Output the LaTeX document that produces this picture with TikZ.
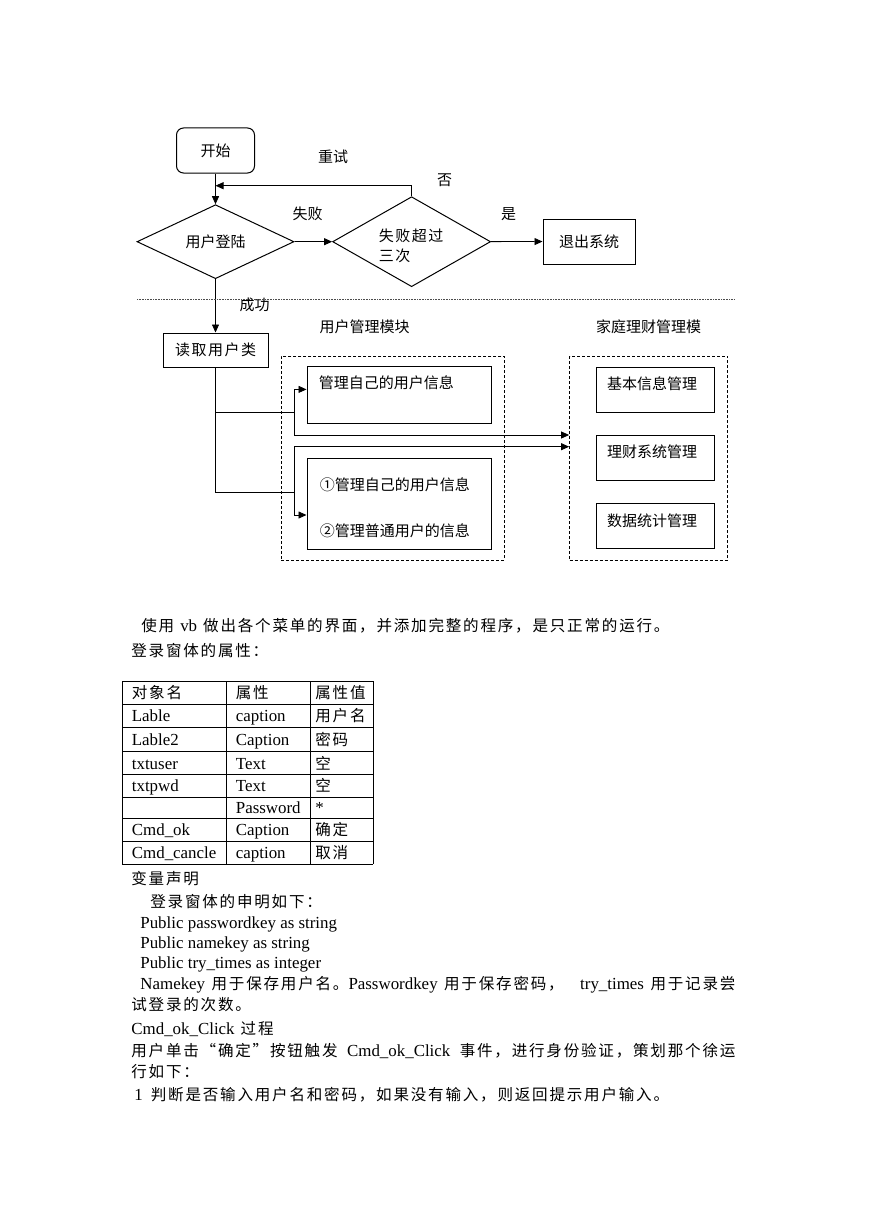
\documentclass[tikz,border=0pt]{standalone}
\usepackage{fontspec}
\setmainfont{Liberation Serif}
\newfontfamily\zhc{Noto Sans CJK SC}
\newfontfamily\zhw[LetterSpace=10]{Noto Sans CJK SC}
\newfontfamily\zh[Scale=0.92,LetterSpace=11.5]{Noto Sans CJK SC}
\usetikzlibrary{shapes.geometric,arrows.meta}
\newcommand\chartfont{\fontsize{15}{18}\selectfont\zhc}
\newcommand\bodyfont{\fontsize{16.9}{20}\selectfont}
\newcommand\cjkgap{\hspace{6pt}}
\tikzset{
  block/.style={draw, line width=1pt, inner sep=0pt, font=\chartfont},
  decision/.style={diamond, draw, line width=1pt, inner sep=0pt, font=\chartfont},
  module/.style={draw, line width=0.8pt, dash pattern=on 3pt off 2pt},
  note/.style={inner sep=0pt, font=\chartfont},
  para/.style={anchor=base west, inner sep=0pt, font=\bodyfont},
}
\begin{document}
\begin{tikzpicture}[x=1pt, y=-1pt, >={Triangle[length=8pt,width=7pt]}, line width=0.8pt]
    \useasboundingbox (0,0) rectangle (869,1228);

    \node[block, rounded corners=7pt, minimum width=78pt, minimum height=45pt] (start) at (215.5,150.5) {开始};
    \node[decision, minimum width=157pt, minimum height=67pt] (login) at (215.5,241.7) {用户登陆};
    \node[decision, minimum width=158pt, minimum height=90pt] (judge) at (411.6,241.7) {};
    \node[note, font=\chartfont\zhw, align=left, anchor=west] (judgetxt) at (378.5,245.5) {失败超过\\[2pt]三次};
    \node[block, minimum width=92pt, minimum height=45pt] (quit) at (589,241.5) {退出系统};
    \node[block, font=\chartfont\zhw, minimum width=105pt, minimum height=34pt] (read) at (215.5,350) {读取用户类};
    \coordinate (retry) at (215.5,185.7);

    \draw[->] (start) -- (login);
    \draw[->] (judge.north) |- (retry);
    \draw[->] (login) -- (judge);
    \draw[->] (judge) -- (quit);
    \draw[->] (login) -- (read);

    \node[note] (retrytxt) at (333,157) {重试};
    \node[note] (notxt) at (444.5,180.5) {否};
    \node[note] (failtxt) at (307.5,214) {失败};
    \node[note] (yestxt) at (508.5,214) {是};
    \node[note] (oktxt) at (254.5,305) {成功};
    \node[note] (usertxt) at (364.5,327) {用户管理模块};
    \node[note] (fintxt) at (648.5,327) {家庭理财管理模};

    \draw[black!70, line width=0.7pt, dash pattern=on 0.8pt off 0.8pt] (137,299) -- (735,299);

    \node[module, minimum width=223pt, minimum height=204pt] (usr) at (392.8,458) {};
    \node[module, minimum width=158pt, minimum height=204pt] (fin) at (648.5,458) {};
    \node[block, minimum width=184pt, minimum height=57pt,
          label={[note, anchor=north west, xshift=12pt, yshift=-9pt]north west:管理自己的用户信息}] (self) at (399,395.4) {};
    \node[block, minimum width=184pt, minimum height=91pt,
          label={[note, align=left, anchor=west, xshift=13pt, yshift=-4pt]west:①管理自己的用户信息\\[28pt]②管理普通用户的信息}] (both) at (399,503.7) {};
    \node[block, minimum width=118pt, minimum height=45pt,
          label={[note, anchor=west, xshift=11pt, yshift=6pt]west:基本信息管理}] (basic) at (655.3,389.8) {};
    \node[block, minimum width=118pt, minimum height=45pt,
          label={[note, anchor=west, xshift=11pt, yshift=6pt]west:理财系统管理}] (plan) at (655.3,458) {};
    \node[block, minimum width=118pt, minimum height=45pt,
          label={[note, anchor=west, xshift=11pt, yshift=6pt]west:数据统计管理}] (stat) at (655.3,526.4) {};

    \coordinate (fork1) at (294.5,412.7);
    \coordinate (fork2) at (294.5,492.3);
    \draw (read) |- (fork2);
    \draw (read |- fork1) -- (fork1);
    \draw[->] (fork1) |- ([yshift=6pt]self.west);
    \draw[->] (fork1) |- ([yshift=23pt]fin.west);
    \draw[->] (fork2) |- ([yshift=11.3pt]fin.west);
    \draw[->] (fork2) |- ([yshift=-11.3pt]both.west);

    \node[para] (p1) at (141,631) {{\zh 使用}\cjkgap vb\cjkgap{\zh 做出各个菜单的界面，并添加完整的程序，是只正常的运行。}};
    \node[para] (p2) at (131,656.5) {{\zh 登录窗体的属性：}};

    \foreach \y in {681,704,727.5,751.5,774.5,797,818.5,841,864}
        \draw (122.3,\y) -- (373,\y);
    \foreach \x in {122.3,226,310,373}
        \draw (\x,681) -- (\x,864);
    \foreach \y/\a/\b/\c [count=\i] in {692.5/{\zh 对象名}/{\zh 属性}/{\zh 属性值},
        715.8/Lable/caption/{\zh 用户名}, 739.5/Lable2/Caption/{\zh 密码},
        763/txtuser/Text/{\zh 空}, 785.8/txtpwd/Text/{\zh 空}, 807.8/{}/Password/*,
        829.8/Cmd\_ok/Caption/{\zh 确定}, 852.5/Cmd\_cancle/caption/{\zh 取消}} {
        \node[para] (a\i) at (131.5,\y+6) {\a};
        \node[para] (b\i) at (235.5,\y+6) {\b};
        \node[para] (c\i) at (315,\y+6) {\c};
    }

    \node[para] (p3) at (131,884) {{\zh 变量声明}};
    \node[para] (p4) at (150,907) {{\zh 登录窗体的申明如下：}};
    \node[para] (p5) at (140,928) {Public passwordkey as string};
    \node[para] (p6) at (140,948) {Public namekey as string};
    \node[para] (p7) at (140,968) {Public try\_times as integer};
    \node[para] (p8) at (140,989) {\makebox[595pt][s]{Namekey {\zh 用于保存用户名。}Passwordkey {\zh 用于保存密码，}\hspace{10pt} try\_times {\zh 用于记录尝}}};
    \node[para] (p9) at (131,1010) {{\zh 试登录的次数。}};
    \node[para] (p10) at (131,1034) {Cmd\_ok\_Click\cjkgap{\zh 过程}};
    \node[para] (p11) at (131,1056) {\makebox[604pt][s]{{\zh 用户单击“确定”按钮触发} Cmd\_ok\_Click {\zh 事件，进行身份验证，策划那个徐运}}};
    \node[para] (p12) at (131,1077) {{\zh 行如下：}};
    \node[para] (p13) at (134,1100) {1\hspace{8pt}{\zh 判断是否输入用户名和密码，如果没有输入，则返回提示用户输入。}};
\end{tikzpicture}
\end{document}
